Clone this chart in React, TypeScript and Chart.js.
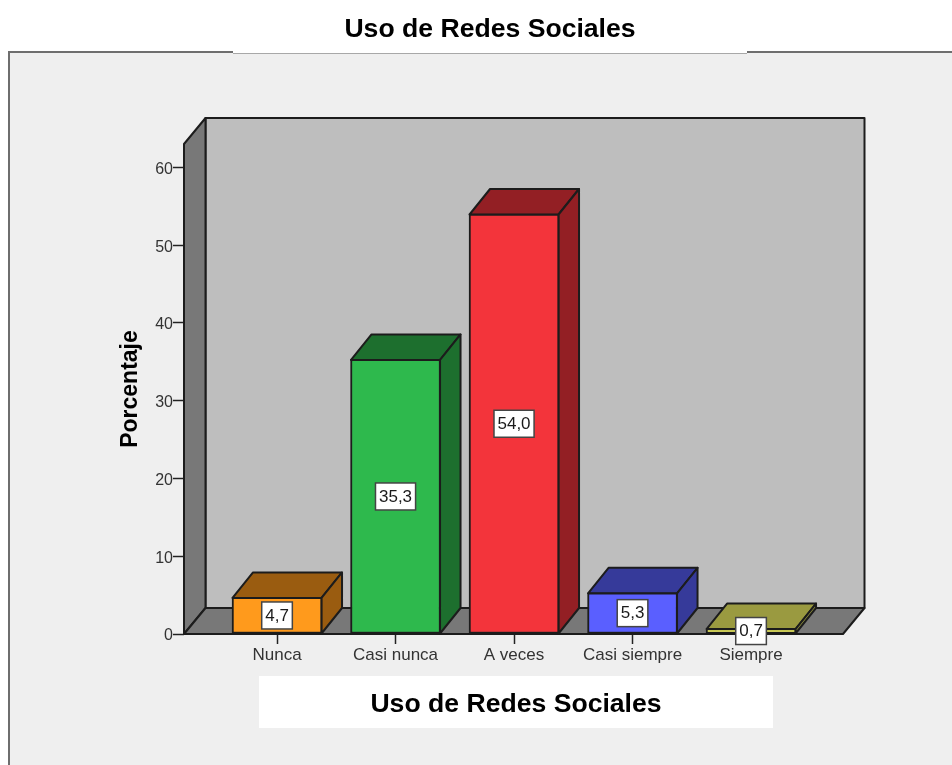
import React, { useEffect, useRef } from "react";
import { Chart, registerables } from "chart.js";

Chart.register(...registerables);

const categories = ["Nunca", "Casi nunca", "A veces", "Casi siempre", "Siempre"];
const percentages = [4.7, 35.3, 54.0, 5.3, 0.7];
const valueLabels = ["4,7", "35,3", "54,0", "5,3", "0,7"];
const frontColors = ["#FF9A1C", "#2EB94D", "#F3343B", "#5A5FFF", "#FFFF66"];
const darkColors = ["#9A5C10", "#1D6F2E", "#931F24", "#363A9A", "#9A9A40"];
const chartTitle = "Uso de Redes Sociales";
const axisTitle = "Porcentaje";

const DX = 20.5;
const DY = -25.5;
const EDGE = "#1c1c1c";

function poly(ctx: CanvasRenderingContext2D, pts: number[][], fill: string) {
  ctx.beginPath();
  pts.forEach((p, i) => (i ? ctx.lineTo(p[0], p[1]) : ctx.moveTo(p[0], p[1])));
  ctx.closePath();
  ctx.fillStyle = fill;
  ctx.fill();
  ctx.lineWidth = 2;
  ctx.strokeStyle = EDGE;
  ctx.lineJoin = "round";
  ctx.stroke();
}

const panelPlugin = {
  id: "panel",
  beforeDraw(chart: any) {
    const { ctx, width, height } = chart;
    ctx.save();
    ctx.fillStyle = "#ffffff";
    ctx.fillRect(0, 0, width, height);
    ctx.fillStyle = "#EFEFEF";
    ctx.fillRect(9, 53, width - 9, height - 53);
    ctx.fillStyle = "#a8a8a8";
    ctx.fillRect(233, 53, 514, 1);
    ctx.fillStyle = "#6e6e6e";
    ctx.fillRect(8, 51, 225, 2);
    ctx.fillRect(747, 51, width - 747, 2);
    ctx.fillRect(8, 51, 2, height - 51);
    ctx.fillStyle = "#ffffff";
    ctx.fillRect(259, 676, 514, 52);
    ctx.restore();
  },
};

const walls3dPlugin = {
  id: "walls3d",
  beforeDatasetsDraw(chart: any) {
    const { ctx, chartArea: a } = chart;
    const meta = chart.getDatasetMeta(0);
    ctx.save();
    const bx = 21.5;
    const by = -26;
    poly(ctx, [[a.left + bx, a.top + by], [a.right + bx, a.top + by], [a.right + bx, a.bottom + by], [a.left + bx, a.bottom + by]], "#BEBEBE");
    poly(ctx, [[a.left, a.top], [a.left + bx, a.top + by], [a.left + bx, a.bottom + by], [a.left, a.bottom]], "#787878");
    poly(ctx, [[a.left, a.bottom], [a.left + bx, a.bottom + by], [a.right + bx, a.bottom + by], [a.right, a.bottom]], "#787878");
    meta.data.forEach((bar: any, i: number) => {
      const l = bar.x - bar.width / 2 + 0.5;
      const r = bar.x + bar.width / 2 - 0.5;
      const t = bar.y + 0.5;
      const b = bar.base;
      poly(ctx, [[l, t], [l + DX, t + DY], [r + DX, t + DY], [r, t]], darkColors[i]);
      poly(ctx, [[r, t], [r + DX, t + DY], [r + DX, b + DY], [r, b]], darkColors[i]);
    });
    ctx.restore();
  },
};

const labelsPlugin = {
  id: "labels3d",
  afterDatasetsDraw(chart: any) {
    const { ctx } = chart;
    const meta = chart.getDatasetMeta(0);
    ctx.save();
    ctx.font = "17px 'Liberation Sans'";
    ctx.textAlign = "center";
    ctx.textBaseline = "middle";
    meta.data.forEach((bar: any, i: number) => {
      const cy = (bar.y + bar.base) / 2;
      const w = ctx.measureText(valueLabels[i]).width + 7;
      const h = 27;
      ctx.fillStyle = "#ffffff";
      ctx.strokeStyle = "#444444";
      ctx.lineWidth = 1.5;
      ctx.fillRect(bar.x - w / 2, cy - h / 2, w, h);
      ctx.strokeRect(bar.x - w / 2, cy - h / 2, w, h);
      ctx.fillStyle = "#1a1a1a";
      ctx.fillText(valueLabels[i], bar.x, cy + 0.5);
    });
    ctx.font = "bold 26.6px 'Liberation Sans'";
    ctx.fillStyle = "#000000";
    ctx.fillText(chartTitle, 490, 29.5);
    ctx.fillText(chartTitle, 516, 704.5);
    ctx.restore();
  },
};

export default function App() {
  const ref = useRef<HTMLCanvasElement>(null);
  useEffect(() => {
    const chart = new Chart(ref.current as HTMLCanvasElement, {
      type: "bar",
      data: {
        datasets: [
          {
            data: percentages.map((y, x) => ({ x, y })),
            backgroundColor: frontColors,
            borderColor: EDGE,
            borderWidth: 2,
            borderSkipped: false,
            barThickness: 90,
          },
        ],
      },
      options: {
        animation: false,
        responsive: false,
        layout: { padding: { left: 117, right: 109, top: 144, bottom: 0 } },
        plugins: { legend: { display: false }, title: { display: false }, tooltip: { enabled: false } },
        scales: {
          x: {
            type: "linear",
            offset: false,
            min: -0.785,
            max: 4.776,
            grid: { offset: false, drawOnChartArea: false, drawTicks: true, tickLength: 10, tickColor: "#222222", tickWidth: 1.5 },
            border: { display: false },
            afterBuildTicks(scale: any) {
              scale.ticks = categories.map((_, value) => ({ value }));
            },
            afterFit(scale: any) {
              scale.height = 131;
            },
            ticks: {
              autoSkip: false,
              maxRotation: 0,
              padding: 1,
              color: "#333333",
              font: { family: "'Liberation Sans'", size: 17 },
              callback: (v: any) => categories[v],
            },
          },
          y: {
            min: 0,
            max: 63,
            grid: { drawOnChartArea: false, drawTicks: true, tickLength: 11, tickColor: "#222222", tickWidth: 1.5 },
            border: { display: false },
            afterFit(scale: any) {
              scale.width = 67;
            },
            title: {
              display: true,
              text: axisTitle,
              color: "#000000",
              padding: 0,
              font: { family: "'Liberation Sans'", size: 23, weight: "bold" },
            },
            ticks: {
              stepSize: 10,
              includeBounds: false,
              padding: 0,
              labelOffset: 2,
              color: "#333333",
              font: { family: "'Liberation Sans'", size: 16 },
            },
          },
        },
      },
      plugins: [panelPlugin, walls3dPlugin, labelsPlugin],
    } as any);
    return () => chart.destroy();
  }, []);
  return (
    <canvas
      ref={ref}
      width={952}
      height={765}
      style={{ position: "fixed", left: 0, top: 0, width: 952, height: 765, display: "block" }}
    />
  );
}
